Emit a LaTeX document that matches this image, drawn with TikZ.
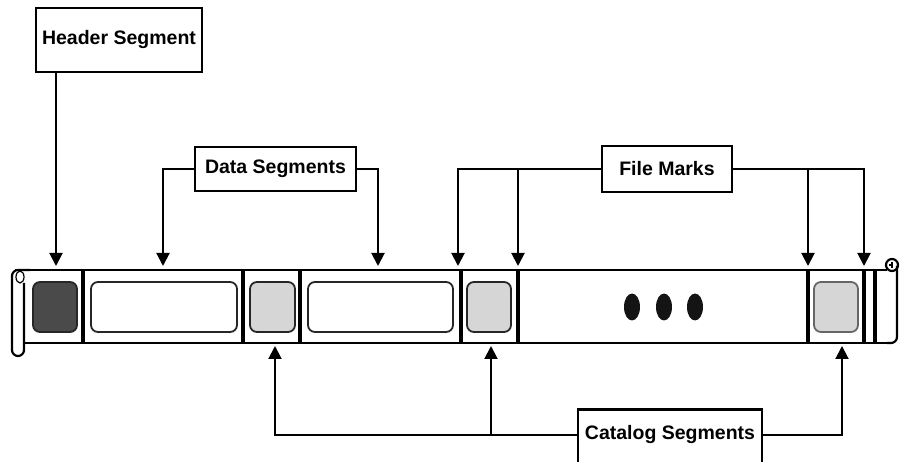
\documentclass[tikz,border=0pt]{standalone}
\usepackage{fontspec}
\setmainfont{Liberation Sans}
\usetikzlibrary{arrows.meta}
\definecolor{darkfill}{gray}{0.29}
\definecolor{lightfill}{gray}{0.84}
\begin{document}
\begin{tikzpicture}[x=1pt,y=-1pt,
  lbl/.style={draw=black,line width=2.5pt,fill=white,inner sep=0pt,
    font=\fontsize{19.5}{22}\selectfont\bfseries},
  arr/.style={line width=2pt,-{Triangle[length=13pt,width=13pt]}},
  sep/.style={line width=4.5pt},
  tape/.style={line width=2.2pt,line join=round},
  cell/.style={draw=black!85,line width=1.8pt,rounded corners=7pt},
]
\useasboundingbox (0,0) rectangle (900,462);
\clip (0,0) rectangle (900,462);
\fill[white] (0,0) rectangle (900,462);

% tape body
\draw[tape] (15,270) -- (887,270);
\draw[tape] (24,343) -- (890,343);
\draw[tape,rounded corners=6pt] (887,343) -- (897,343) -- (897,266);
\draw[tape] (892,265) circle (6);
\draw[line width=1.2pt] (892,262) -- (892,268) (889,265) -- (892,265);
% left roll
\draw[tape,rounded corners=6pt] (24,283) -- (24,356) -- (12,356) -- (12,270) -- (30,270);
\draw[line width=1.2pt] (20,277) ellipse (4 and 6);

% cells
\draw[cell,fill=darkfill] (33,282) rectangle (77,332);
\draw[cell,fill=white] (91,282) rectangle (237,332);
\draw[cell,fill=lightfill] (250,282) rectangle (295,332);
\draw[cell,fill=white] (308,282) rectangle (453,332);
\draw[cell,fill=lightfill] (467,282) rectangle (511,332);
\draw[cell,draw=black!60,fill=lightfill] (814,282) rectangle (858,332);

% separators
\foreach \x in {83,243,300,461,518,808,864,875}
  \draw[sep] (\x,270) -- (\x,344);

% dots
\foreach \x in {632,664,695}
  \fill[black!92] (\x,307) ellipse (8 and 13.5);

% label boxes
\node[lbl,minimum width=166pt,minimum height=64pt] (header) at (119,40) {Header Segment};
\node[lbl,minimum width=161pt,minimum height=44pt] (data) at (275.5,169) {Data Segments};
\node[lbl,minimum width=130pt,minimum height=46pt] (file) at (667,169) {File Marks};
\node[lbl,minimum width=184pt,minimum height=58pt,anchor=north] (cat) at (670,408) {};
\node[font=\fontsize{19.5}{22}\selectfont\bfseries] (cattext) at (670,435) {Catalog Segments};

% target coordinates
\coordinate (hs) at (56,266);
\coordinate (ds1) at (163,266);
\coordinate (ds2) at (378,266);
\coordinate (fm1) at (458,266);
\coordinate (fm2) at (518,266);
\coordinate (fm3) at (808,266);
\coordinate (fm4) at (864,266);
\coordinate (cs1) at (275,346);
\coordinate (cs2) at (491,346);
\coordinate (cs3) at (842,346);
\coordinate (catl) at (578,435);
\coordinate (catr) at (762,435);

% connectors
\draw[arr] (header.south -| hs) -- (hs);
\draw[arr] (data.west) -| (ds1);
\draw[arr] (data.east) -| (ds2);
\draw[arr] (file.west) -| (fm1);
\draw[arr] (file.west -| fm2) -- (fm2);
\draw[arr] (file.east) -| (fm4);
\draw[arr] (file.east -| fm3) -- (fm3);
\draw[arr] (catl) -| (cs1);
\draw[arr] (catl -| cs2) -- (cs2);
\draw[arr] (catr) -| (cs3);
\end{tikzpicture}
\end{document}
